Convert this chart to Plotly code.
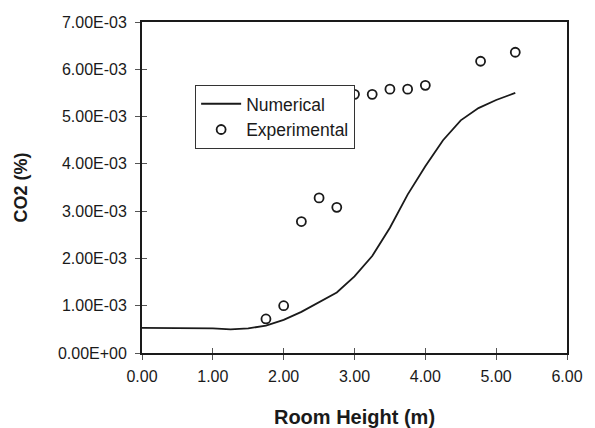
import plotly.graph_objects as go

# Numerical (line) data
num_x = [0.0, 0.5, 1.0, 1.25, 1.5, 1.75, 2.0, 2.25, 2.5, 2.75, 3.0, 3.25, 3.5, 3.75, 4.0, 4.25, 4.5, 4.75, 5.0, 5.27]
num_y = [0.53e-3, 0.53e-3, 0.52e-3, 0.50e-3, 0.52e-3, 0.58e-3, 0.70e-3, 0.87e-3, 1.07e-3, 1.28e-3, 1.62e-3,
         2.05e-3, 2.65e-3, 3.35e-3, 3.95e-3, 4.50e-3, 4.92e-3, 5.18e-3, 5.35e-3, 5.50e-3]

# Experimental (markers) data
exp_x = [1.75, 2.0, 2.25, 2.5, 2.75, 3.0, 3.25, 3.5, 3.75, 4.0, 4.78, 5.27]
exp_y = [0.72e-3, 1.0e-3, 2.78e-3, 3.28e-3, 3.08e-3, 5.47e-3, 5.47e-3, 5.58e-3, 5.58e-3, 5.66e-3, 6.17e-3, 6.36e-3]

y_tickvals = [0, 1e-3, 2e-3, 3e-3, 4e-3, 5e-3, 6e-3, 7e-3]
y_ticktext = ["0.00E+00", "1.00E-03", "2.00E-03", "3.00E-03", "4.00E-03", "5.00E-03", "6.00E-03", "7.00E-03"]
x_tickvals = [0, 1, 2, 3, 4, 5, 6]

FONT = "Liberation Sans, Arial, sans-serif"

fig = go.Figure()
fig.add_trace(go.Scatter(x=num_x, y=num_y, mode="lines", name="Numerical",
                         line=dict(color="#1a1a1a", width=1.8)))
fig.add_trace(go.Scatter(x=exp_x, y=exp_y, mode="markers", name="Experimental",
                         marker=dict(symbol="circle-open", size=9, color="#1a1a1a",
                                     line=dict(width=1.8, color="#1a1a1a"))))

fig.update_layout(
    width=595, height=428,
    margin=dict(l=142, r=28, t=22, b=75, autoexpand=False),
    paper_bgcolor="white", plot_bgcolor="white",
    font=dict(family=FONT, color="#1a1a1a", size=16),
    showlegend=True,
    legend=dict(x=0.125, y=0.81, xanchor="left", yanchor="top",
                bgcolor="white", bordercolor="#333", borderwidth=1,
                font=dict(size=17.5, family=FONT), tracegroupgap=0,
                itemwidth=40),
    xaxis=dict(range=[0, 6], tickvals=x_tickvals, tickformat=".2f", automargin=False,
               showgrid=False, zeroline=False, showline=True, linecolor="#1a1a1a", linewidth=1.8,
               mirror=True, ticks="outside", ticklen=5, tickwidth=1, tickcolor="#555",
               ticklabelstandoff=3,
               tickfont=dict(size=16, family=FONT),
               title=dict(text="<b>Room Height (m)</b>", font=dict(size=20, family=FONT), standoff=26)),
    yaxis=dict(range=[0, 7e-3], tickvals=y_tickvals, ticktext=y_ticktext, automargin=False,
               showgrid=False, zeroline=False, showline=True, linecolor="#1a1a1a", linewidth=1.8,
               mirror=True, ticks="outside", ticklen=5, tickwidth=1, tickcolor="#555",
               ticklabelstandoff=5,
               tickfont=dict(size=16, family=FONT),
               title=dict(text="<b>CO2 (%)</b>", font=dict(size=18, family=FONT), standoff=26)),
    xaxis2=dict(range=[0, 6], tickvals=x_tickvals, overlaying="x", side="bottom", automargin=False,
                showticklabels=False, showgrid=False, zeroline=False, showline=False,
                ticks="inside", ticklen=5, tickwidth=1, tickcolor="#555"),
    yaxis2=dict(range=[0, 7e-3], tickvals=y_tickvals, overlaying="y", side="left", automargin=False,
                showticklabels=False, showgrid=False, zeroline=False, showline=False,
                ticks="inside", ticklen=5, tickwidth=1, tickcolor="#555"),
)
# invisible trace to anchor the secondary axes
fig.add_trace(go.Scatter(x=[None], y=[None], xaxis="x2", yaxis="y2", showlegend=False, hoverinfo="skip"))

fig.write_html("out.html")
